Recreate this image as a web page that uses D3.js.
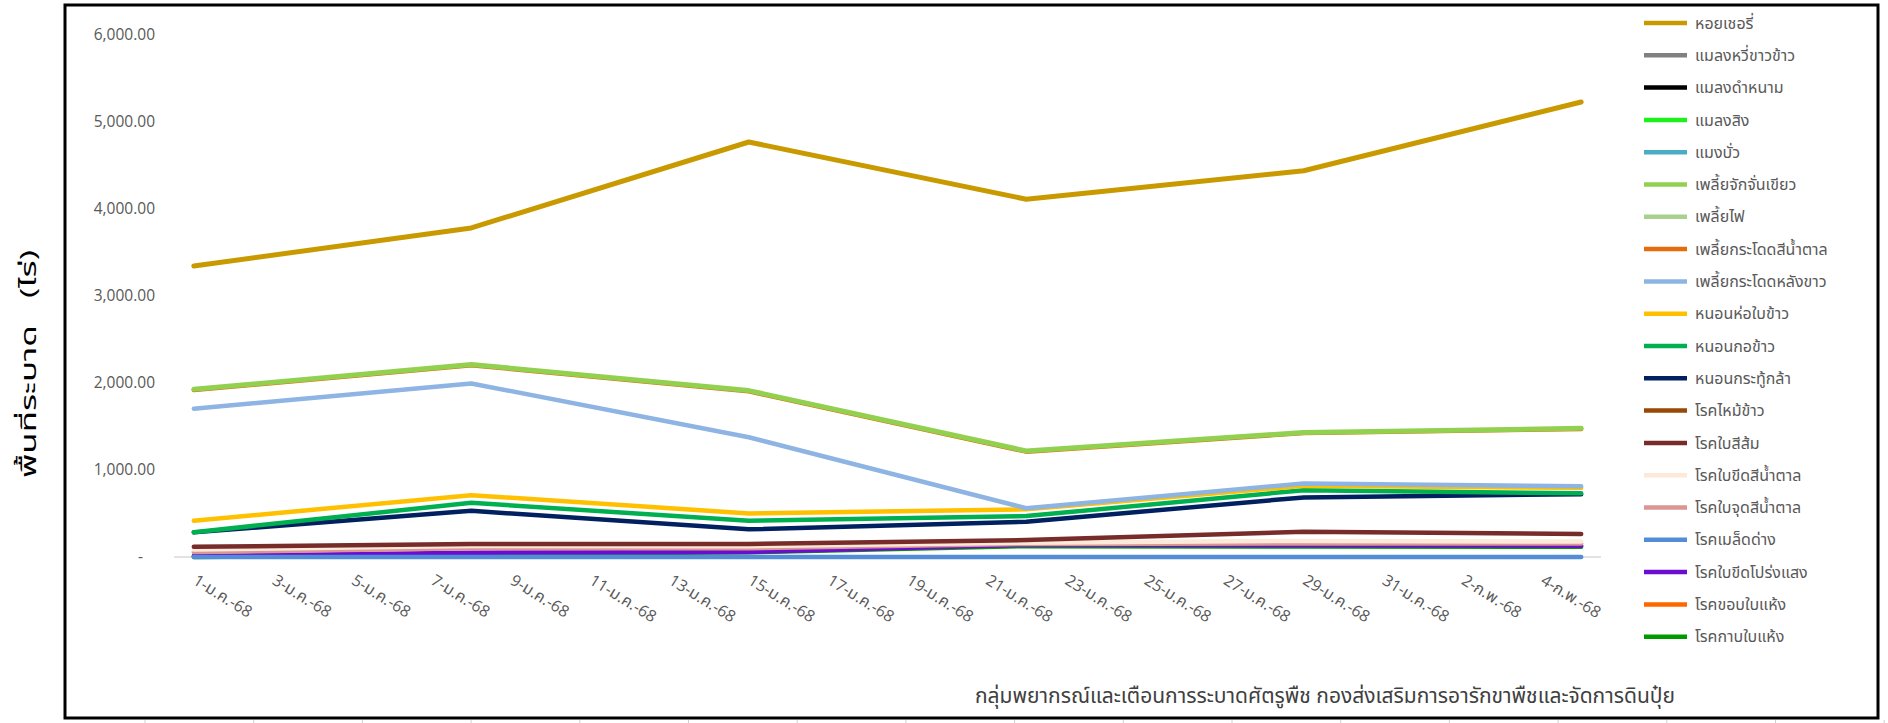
<!DOCTYPE html>
<html>
<head>
<meta charset="utf-8">
<script src="https://cdn.jsdelivr.net/npm/d3@7"></script>
<style>
  body { margin: 0; background: #fff; }
  text { font-family: "Open Sans", "Noto Sans Thai", "Noto Sans", sans-serif; }
</style>
</head>
<body>
<div id="chart"></div>
<script>
// survey dates (weekly)
const dates = ["2025-01-01", "2025-01-08", "2025-01-15", "2025-01-22", "2025-01-29", "2025-02-05"]

// x tick labels, every 2 days
const tickDates = ["2025-01-01", "2025-01-03", "2025-01-05", "2025-01-07", "2025-01-09", "2025-01-11",
  "2025-01-13", "2025-01-15", "2025-01-17", "2025-01-19", "2025-01-21", "2025-01-23", "2025-01-25",
  "2025-01-27", "2025-01-29", "2025-01-31", "2025-02-02", "2025-02-04"]
const thaiMonths = ["ม.ค.", "ก.พ."]
const yTicks = [0, 1000, 2000, 3000, 4000, 5000, 6000]

const seriesNames = ["หอยเชอรี่", "แมลงหวี่ขาวข้าว", "แมลงดำหนาม", "แมลงสิง", "แมงบั่ว",
  "เพลี้ยจักจั่นเขียว", "เพลี้ยไฟ", "เพลี้ยกระโดดสีน้ำตาล", "เพลี้ยกระโดดหลังขาว", "หนอนห่อใบข้าว",
  "หนอนกอข้าว", "หนอนกระทู้กล้า", "โรคไหม้ข้าว", "โรคใบสีส้ม", "โรคใบขีดสีน้ำตาล",
  "โรคใบจุดสีน้ำตาล", "โรคเมล็ดด่าง", "โรคใบขีดโปร่งแสง", "โรคขอบใบแห้ง", "โรคกาบใบแห้ง"]

// area (rai) per date; null = no record
const goldenSnail      = [3345, 3782, 4770, 4112, 4440, 5230]
const whitefly         = null
const riceHispa        = null
const riceBug          = null
const gallMidge        = null
const greenLeafhopper  = [1927, 2213, 1913, 1219, 1432, 1479]
const thrips           = null
const brownPlanthopper = [1919, 2205, 1905, 1211, 1424, 1471]
const whiteBackedPH    = [1705, 1995, 1376, 560, 845, 814]
const leafFolder       = [417, 711, 501, 548, 818, 795]
const stemBorer        = [285, 623, 416, 470, 768, 732]
const armyworm         = [283, 531, 318, 405, 685, 722]
const riceBlast        = null
const orangeLeaf       = [118, 149, 149, 195, 290, 264]
const narrowBrownSpot  = [85, 125, 125, 165, 185, 178]
const brownSpot        = [57, 100, 100, 150, 155, 155]
const dirtyPanicle     = [0, 0, 0, 0, 0, 0]
const leafStreak       = [12, 50, 58, 140, 136, 130]
const bacterialBlight  = null
const sheathBlight     = [0, 30, 55, 125, 120, 118]

const seriesValues = [goldenSnail, whitefly, riceHispa, riceBug, gallMidge, greenLeafhopper, thrips,
  brownPlanthopper, whiteBackedPH, leafFolder, stemBorer, armyworm, riceBlast, orangeLeaf,
  narrowBrownSpot, brownSpot, dirtyPanicle, leafStreak, bacterialBlight, sheathBlight]

const seriesColors = ["#C99A00", "#808080", "#000000", "#1EF01E", "#4BACC6", "#92D050", "#A9D18E",
  "#E46C0A", "#8DB4E2", "#FFC000", "#00B050", "#002060", "#984807", "#772C2A", "#FDE9D9",
  "#DA9694", "#538DD5", "#6A0DD0", "#FF6600", "#009A00"]

const W = 1888, H = 723
const parse = d3.timeParse("%Y-%m-%d")

const svg = d3.select("#chart").append("svg")
  .attr("width", W)
  .attr("height", H)

// chart frame
svg.append("rect")
  .attr("x", 65).attr("y", 5)
  .attr("width", 1813).attr("height", 713)
  .attr("fill", "none")
  .attr("stroke", "#000")
  .attr("stroke-width", 3)

// sheet cell lines peeking below the frame
d3.range(145, W, 108.7).forEach((gx) => {
  svg.append("line")
    .attr("x1", gx).attr("x2", gx)
    .attr("y1", 720).attr("y2", H)
    .attr("stroke", "#d0d0d0")
})

const x = d3.scaleTime()
  .domain([new Date(2024, 11, 31, 12), new Date(2025, 1, 5, 12)])
  .range([174, 1601])
const y = d3.scaleLinear().domain([0, 6000]).range([557, 35])

// y axis
const yAxis = svg.append("g")
  .attr("transform", "translate(155,0)")
  .call(d3.axisLeft(y).tickValues(yTicks).tickSize(0)
    .tickFormat((d) => d === 0 ? "-   " : d3.format(",.2f")(d)))
yAxis.select(".domain").remove()
yAxis.selectAll("text")
  .attr("x", 0)
  .style("white-space", "pre")
  .attr("fill", "#595959")
  .attr("font-size", 15.5)
  .attr("font-family", "'Open Sans', sans-serif")

// x axis line
svg.append("line")
  .attr("x1", x.range()[0]).attr("x2", x.range()[1])
  .attr("y1", y(0)).attr("y2", y(0))
  .attr("stroke", "#d9d9d9")
  .attr("stroke-width", 1.5)

const fmtDate = (d) => d.getDate() + "-" + thaiMonths[d.getMonth()] + "-68"

const xAxis = svg.append("g")
  .attr("transform", "translate(0," + y(0) + ")")
  .call(d3.axisBottom(x).tickValues(tickDates.map(parse)).tickSize(0).tickFormat(fmtDate))
xAxis.select(".domain").remove()
xAxis.selectAll(".tick text")
  .attr("text-anchor", "start")
  .attr("x", 0).attr("y", 0)
  .attr("dy", "0.75em")
  .attr("transform", "translate(4,16) rotate(32)")
  .attr("fill", "#595959")
  .attr("font-size", 16)

// lines, first legend entries drawn on top
const line = d3.line()
  .defined((d) => d != null)
  .x((d, i) => x(parse(dates[i])))
  .y((d) => y(d))

const order = d3.range(seriesNames.length).reverse()
order.forEach((i) => {
  if (!seriesValues[i]) return
  svg.append("path")
    .attr("d", line(seriesValues[i]))
    .attr("fill", "none")
    .attr("stroke", seriesColors[i])
    .attr("stroke-width", i === 0 || i === 5 ? 5 : 4.5)
    .attr("stroke-linejoin", "round")
    .attr("stroke-linecap", "round")
})

// legend
const legend = svg.append("g").attr("transform", "translate(1644,23)")
seriesNames.forEach((name, i) => {
  const g = legend.append("g").attr("transform", "translate(0," + (i * 32.3) + ")")
  g.append("line")
    .attr("x1", 0).attr("x2", 43)
    .attr("stroke", seriesColors[i])
    .attr("stroke-width", 4.5)
  g.append("text")
    .attr("x", 51)
    .attr("dy", "0.35em")
    .attr("fill", "#595959")
    .attr("font-size", 16)
    .text(name)
})

// y title
svg.append("text")
  .attr("transform", "translate(36,364) rotate(-90)")
  .attr("text-anchor", "middle")
  .attr("font-size", 22)
  .attr("fill", "#000")
  .attr("textLength", 228)
  .attr("lengthAdjust", "spacingAndGlyphs")
  .style("white-space", "pre")
  .text("พื้นที่ระบาด   (ไร่)")

// source note
svg.append("text")
  .attr("x", 975).attr("y", 703)
  .attr("font-size", 21)
  .attr("fill", "#404040")
  .text("กลุ่มพยากรณ์และเตือนการระบาดศัตรูพืช กองส่งเสริมการอารักขาพืชและจัดการดินปุ๋ย")
</script>
</body>
</html>
